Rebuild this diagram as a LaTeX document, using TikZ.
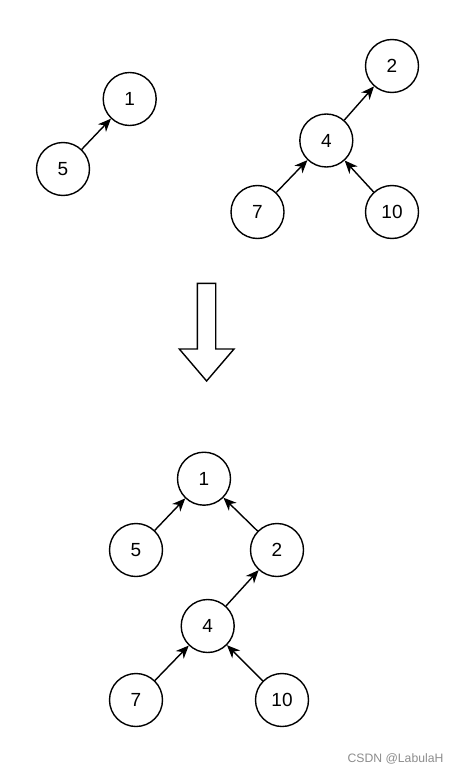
\documentclass[tikz,border=0pt]{standalone}
\usepackage{fontspec}
\setmainfont{Liberation Sans}
\usetikzlibrary{arrows.meta}
\begin{document}
\begin{tikzpicture}[x=1pt,y=-1pt,
  tnode/.style={circle,draw=black,line width=1.4pt,minimum size=53pt,inner sep=0pt,font=\fontsize{19}{21}\selectfont,fill=white},
  link/.style={line width=1.4pt,-{Stealth[length=13pt,width=11pt,inset=4pt]}},
  bigarrow/.style={draw=black,line width=1.4pt,fill=white,line join=miter}]
\useasboundingbox (0,0) rectangle (457,773);
% top left
\node[tnode] (a1) at (129.7,99) {1};
\node[tnode] (a5) at (63,169) {5};
\draw[link] (a5) -- (a1);
% top right
\node[tnode] (b2) at (392,66) {2};
\node[tnode] (b4) at (326.3,140.5) {4};
\node[tnode] (b7) at (257.5,212) {7};
\node[tnode] (b10) at (392,212) {10};
\draw[link] (b4) -- (b2);
\draw[link] (b7) -- (b4);
\draw[link] (b10) -- (b4);
% big arrow
\draw[bigarrow] (197.3,283.3) -- (215.7,283.3) -- (215.7,349) -- (234,349) -- (206.6,381) -- (179.3,349) -- (197.3,349) -- cycle;
% bottom
\node[tnode] (c1) at (204,478.7) {1};
\node[tnode] (c5) at (136,550) {5};
\node[tnode] (c2) at (277,550) {2};
\node[tnode] (c4) at (207.7,626) {4};
\node[tnode] (c7) at (136,700) {7};
\node[tnode] (c10) at (282,700) {10};
\draw[link] (c5) -- (c1);
\draw[link] (c2) -- (c1);
\draw[link] (c4) -- (c2);
\draw[link] (c7) -- (c4);
\draw[link] (c10) -- (c4);
% watermark
\node[text=black!45,font=\fontsize{12.2}{14}\selectfont,inner sep=0pt] (wm) at (395.5,759) {CSDN @LabulaH};
\end{tikzpicture}
\end{document}
